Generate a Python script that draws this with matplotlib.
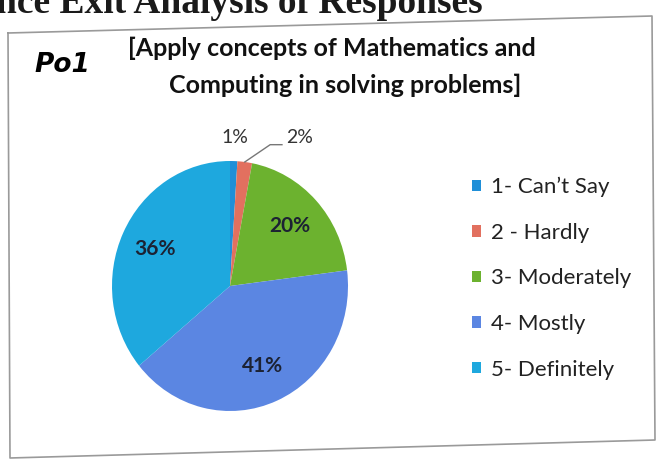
import numpy as np
import matplotlib
matplotlib.use("Agg")
import matplotlib.pyplot as plt
from matplotlib.lines import Line2D

# data
labels = ["1- Can\u2019t Say", "2 - Hardly", "3- Moderately", "4- Mostly", "5- Definitely"]
values = [1, 2, 20, 41, 36]
colors = ["#1f8fd8", "#e2705f", "#6cb22f", "#5b86e2", "#1ea8de"]
title_lines = ["[Apply concepts of Mathematics and", "Computing in solving problems]"]

W, H = 661, 463


def fx(px):
    return px / W


def fy(py):
    return 1 - py / H


plt.rcParams["font.family"] = ["Lato", "DejaVu Sans"]

fig = plt.figure(figsize=(W / 100, H / 100), dpi=100)
fig.patch.set_facecolor("white")

# pie centre and radii in pixels (scan is a bit stretched vertically)
cx, cy, rx, ry = 230, 286, 118, 125
L = 1.3
ax = fig.add_axes([fx(cx - L * rx), fy(cy + L * ry), 2 * L * rx / W, 2 * L * ry / H])

wedges, _, autotexts = ax.pie(values, colors=colors, startangle=90, counterclock=False,
                              autopct=lambda p: "%d%%" % round(p) if p > 5 else "",
                              pctdistance=0.7, wedgeprops=dict(linewidth=0))
for t in autotexts:
    t.set_fontsize(15)
    t.set_fontweight("bold")
    t.set_color("#1c2233")
ax.set_aspect("auto")
ax.set_xlim(-L, L)
ax.set_ylim(-L, L)
ax.axis("off")

# small slices get labels outside the pie
small = [i for i, v in enumerate(values) if v <= 5]
for k, i in enumerate(small):
    w = wedges[i]
    th = np.deg2rad((w.theta1 + w.theta2) / 2)
    txt = "%d%%" % values[i]
    if k == 0:
        ax.text(1.19 * np.cos(th), 1.19 * np.sin(th), txt, ha="center", va="center",
                fontsize=14, color="#333333")
    else:
        lx, ly = 1.2 * np.cos(th) + 0.44, 1.2 * np.sin(th)
        ax.text(lx, ly, txt, ha="center", va="center", fontsize=14, color="#333333")
        ax.plot([np.cos(th), lx - 0.25, lx - 0.15],
                [np.sin(th), ly - 0.06, ly - 0.06], color="#777777", lw=1)

fig.legend(wedges, labels, loc="upper left", bbox_to_anchor=(fx(452), fy(157)),
           frameon=False, fontsize=16, handlelength=0.42, handleheight=0.42,
           handletextpad=0.45, labelspacing=1.15, labelcolor="#222222")

fig.text(fx(332), fy(48), title_lines[0], ha="center", va="center",
         fontsize=18, fontweight="bold", color="#111111")
fig.text(fx(345), fy(85), title_lines[1], ha="center", va="center",
         fontsize=18, fontweight="bold", color="#111111")

# handwritten mark next to the title
fig.text(fx(34), fy(65), "Po1", ha="left", va="center", fontsize=19,
         fontweight="heavy", fontstyle="italic", color="black", family="DejaVu Sans")

# cut off heading of the scanned page
fig.text(fx(-4), fy(13), "nce Exit Analysis of Responses", ha="left", va="baseline",
         fontsize=27, fontweight="bold", color="#1a1a1a", family="Liberation Serif")

# slightly tilted frame of the scanned chart
box_x = [8, 652, 655, 10, 8]
box_y = [33, 16, 440, 458, 33]
fig.add_artist(Line2D([fx(v) for v in box_x], [fy(v) for v in box_y],
                      color="#9a9a9a", lw=1.2))

fig.savefig("out.png", dpi=100)
